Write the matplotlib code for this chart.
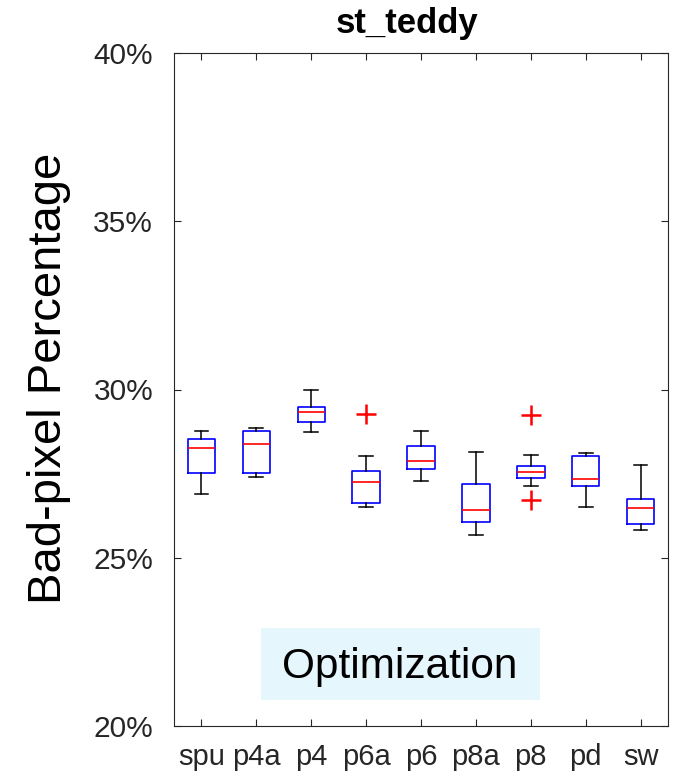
import matplotlib
matplotlib.use('Agg')
import matplotlib.pyplot as plt
import matplotlib.patches as patches

plt.rcParams['font.family'] = ['Liberation Sans', 'DejaVu Sans']

# in percent
labels = ['spu', 'p4a', 'p4', 'p6a', 'p6', 'p8a', 'p8', 'pd', 'sw']
whishi = [28.77, 28.85, 29.98, 28.01, 28.77, 28.14, 28.06, 28.11, 27.75]
q3 = [28.53, 28.78, 29.48, 27.57, 28.33, 27.19, 27.74, 28.03, 26.76]
med = [28.25, 28.38, 29.33, 27.26, 27.88, 26.42, 27.56, 27.35, 26.49]
q1 = [27.52, 27.52, 29.03, 26.64, 27.65, 26.06, 27.38, 27.12, 26.01]
whislo = [26.89, 27.39, 28.75, 26.50, 27.29, 25.69, 27.13, 26.50, 25.83]
fliers = [[], [], [], [29.28], [], [], [29.24, 26.72], [], []]
yticks = [20, 25, 30, 35, 40]

stats = []
for i in range(len(labels)):
    stats.append({'label': labels[i], 'med': med[i], 'q1': q1[i], 'q3': q3[i],
                  'whislo': whislo[i], 'whishi': whishi[i], 'fliers': fliers[i]})

fig = plt.figure(figsize=(6.81, 7.78), dpi=100)
ax = fig.add_axes([174/681, 52/778, 494/681, 673/778])

dark = '#262626'
ax.bxp(stats, positions=range(1, len(labels) + 1), widths=0.5,
       boxprops=dict(color='blue', linewidth=1.2),
       medianprops=dict(color='red', linewidth=1.2),
       whiskerprops=dict(color='black', linewidth=1.1),
       capprops=dict(color='black', linewidth=1.1),
       flierprops=dict(marker='+', markeredgecolor='red', markersize=14,
                       markeredgewidth=1.8, linestyle='none'),
       capwidths=0.25)

ax.set_xlim(0.5, len(labels) + 0.5)
ax.set_ylim(20, 40)
ax.set_yticks(yticks)
ax.set_yticklabels(['%d%%' % t for t in yticks])
ax.set_xticks(range(1, len(labels) + 1))
ax.set_xticklabels(labels)
ax.tick_params(axis='both', direction='in', length=5, width=0.8, color=dark,
               labelcolor=dark, top=True, right=True)
ax.tick_params(axis='x', labelsize=21, pad=12)
ax.tick_params(axis='y', labelsize=21.5, pad=15)
for sp in ax.spines.values():
    sp.set_color(dark)
    sp.set_linewidth(0.8)

# annotation box
ax.add_patch(patches.Rectangle((0.176, 0.0386), 0.565, 0.107, transform=ax.transAxes,
                               facecolor='#e6f6fd', edgecolor='none', zorder=0))
ax.text(0.4575, 0.0709, 'Optimization', transform=ax.transAxes, ha='center',
        va='baseline', fontsize=30.5, color='black')

fig.text(407/681, 1 - 33/778, 'st_teddy', ha='center', va='baseline',
         fontsize=25, fontweight='bold', color='black')
fig.text(49/681, 0.5135, 'Bad-pixel Percentage', rotation=90, ha='center',
         va='center', fontsize=34, color='black')

fig.savefig('out.png', dpi=100)
